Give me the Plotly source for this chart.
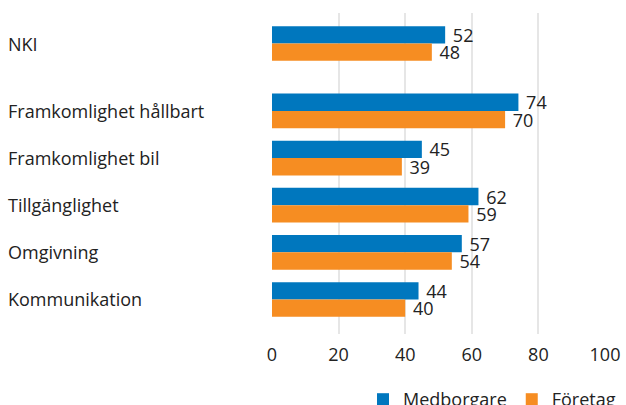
import plotly.graph_objects as go

categories = ["NKI", "Framkomlighet hållbart", "Framkomlighet bil",
              "Tillgänglighet", "Omgivning", "Kommunikation"]
# vertical slot of each category, top to bottom (NKI set apart from the factors)
positions = [0, 1.43, 2.43, 3.43, 4.43, 5.43]
medborgare = [52, 74, 45, 62, 57, 44]
foretag = [48, 70, 39, 59, 54, 40]
x_ticks = [0, 20, 40, 60, 80, 100]

BLUE = "#0077BE"
ORANGE = "#F68D22"
FONT = "Open Sans"
TEXT = "#222222"
FS = 18

W, H = 626, 405
ML, MR, MT, MB = 272, 21, 13, 71
plot_w = W - ML - MR

fig = go.Figure()
for name, vals, color in [("Medborgare", medborgare, BLUE),
                          ("Företag", foretag, ORANGE)]:
    fig.add_trace(go.Bar(
        y=positions, x=vals, name=name, orientation="h",
        marker=dict(color=color, line=dict(width=0)),
        text=[str(v) for v in vals], texttemplate="\u00a0%{text}",
        textposition="outside", constraintext="none",
        textfont=dict(family=FONT, size=FS, color=TEXT), cliponaxis=False,
    ))

# left-aligned category labels
for cat, pos in zip(categories, positions):
    fig.add_annotation(
        text=cat, xref="paper", yref="y", x=(6 - ML) / plot_w, y=pos,
        xanchor="left", yanchor="middle", showarrow=False,
        font=dict(family=FONT, size=FS, color=TEXT),
    )

fig.update_layout(
    width=W, height=H,
    margin=dict(l=ML, r=MR, t=MT, b=MB, autoexpand=False),
    paper_bgcolor="white", plot_bgcolor="white",
    barmode="group", bargap=0.265, bargroupgap=0,
    font=dict(family=FONT, size=FS, color=TEXT),
    showlegend=True,
    legend=dict(
        orientation="h", xref="container", x=363 / W, xanchor="left",
        yref="container", y=1 - 381 / H, yanchor="top",
        font=dict(family=FONT, size=FS, color=TEXT),
        traceorder="normal",
    ),
    xaxis=dict(
        range=[0, 100], tickvals=x_ticks, showgrid=True,
        gridcolor="#E6E6E6", gridwidth=1.5, zeroline=False,
        showline=False, ticks="", ticklabelstandoff=8,
        tickfont=dict(family=FONT, size=FS, color=TEXT),
        fixedrange=True,
    ),
    yaxis=dict(
        range=[6.163, -0.648], showticklabels=False, showgrid=False,
        zeroline=False, showline=False, ticks="", autorange=False,
    ),
)

fig.write_html("out.html")
